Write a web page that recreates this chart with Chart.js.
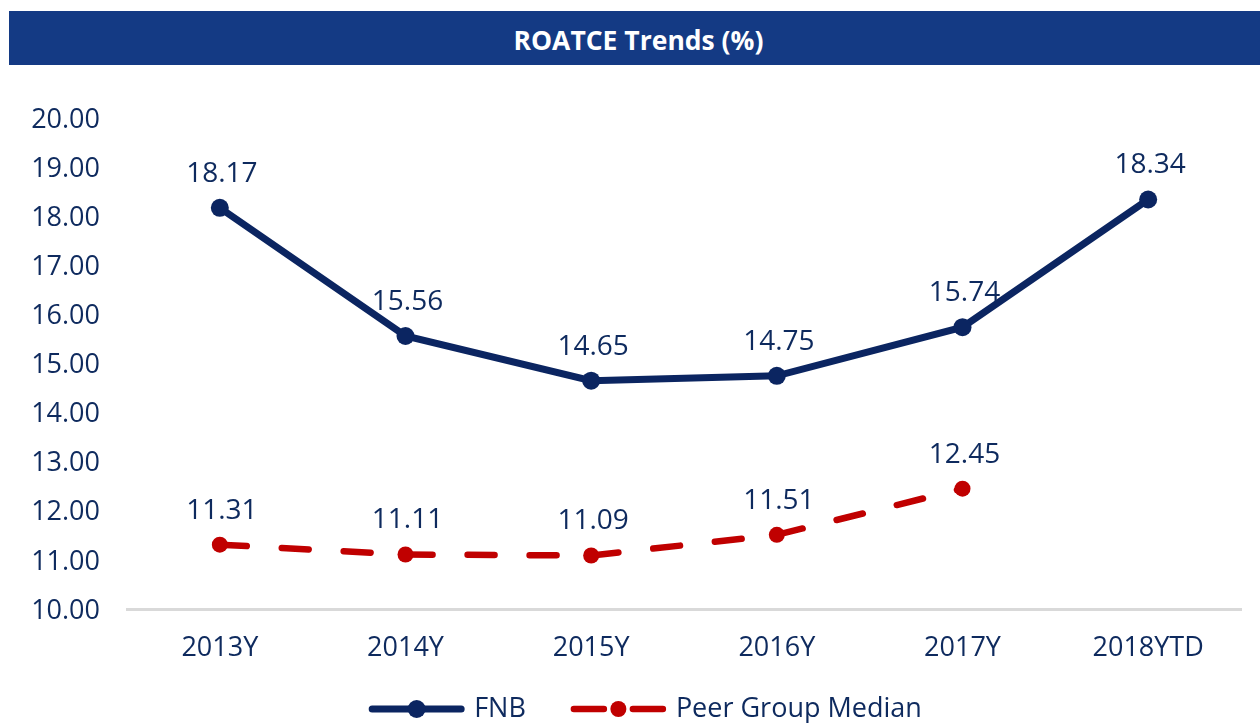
<!DOCTYPE html>
<html>
<head>
<meta charset="utf-8">
<script src="https://cdn.jsdelivr.net/npm/chart.js@4"></script>
<style>
  body { margin: 0; background: #fff; font-family: 'Open Sans', sans-serif; }
  #wrap { position: relative; width: 1260px; height: 723px; }
  #titleBar {
    position: absolute; left: 9px; top: 11px; width: 1251px; height: 54px;
    background: #143a84; color: #fff; font-weight: bold; font-size: 26.5px;
    display: flex; align-items: center; justify-content: center;
    padding: 3px 0 0 8px; box-sizing: border-box;
  }
  canvas { position: absolute; left: 0; top: 0; }
</style>
</head>
<body>
<div id="wrap">
  <canvas id="roatceChart" width="1260" height="723"></canvas>
  <div id="titleBar">ROATCE Trends (%)</div>
</div>
<script>
// datos del gráfico
const years = ['2013Y', '2014Y', '2015Y', '2016Y', '2017Y', '2018YTD'];
const fnbValues = [18.17, 15.56, 14.65, 14.75, 15.74, 18.34];
const peerValues = [11.31, 11.11, 11.09, 11.51, 12.45, null];
const yTicks = [10, 11, 12, 13, 14, 15, 16, 17, 18, 19, 20];

const NAVY = '#0b2561';
const RED = '#c00000';
const TEXT = '#0e2a5e';
const FONT = "'Open Sans', sans-serif";

// etiquetas de valor sobre cada punto
const valueLabels = {
    id: 'valueLabels',
    afterDatasetsDraw(chart) {
        const ctx = chart.ctx;
        ctx.save();
        ctx.font = `28px ${FONT}`;
        ctx.fillStyle = TEXT;
        ctx.textAlign = 'center';
        ctx.textBaseline = 'middle';
        chart.data.datasets.forEach((ds, i) => {
            chart.getDatasetMeta(i).data.forEach((pt, j) => {
                const v = ds.data[j];
                if (v === null || v === undefined) return;
                ctx.fillText(v.toFixed(2), pt.x + 2, pt.y - 34);
            });
        });
        ctx.restore();
    }
};

// leyenda con línea + punto
const lineLegend = {
    id: 'lineLegend',
    afterDraw(chart) {
        const ctx = chart.ctx;
        const y = 709;
        const lineLen = 97, textGap = 9, itemGap = 44;
        ctx.save();
        ctx.font = `27px ${FONT}`;
        const items = chart.data.datasets.map(ds => ({
            ds, w: lineLen + textGap + ctx.measureText(ds.label).width
        }));
        const total = items.reduce((s, it) => s + it.w, 0) + itemGap * (items.length - 1);
        let x = 645 - total / 2;
        items.forEach(({ ds, w }) => {
            ctx.strokeStyle = ds.borderColor;
            ctx.lineWidth = ds.borderWidth;
            ctx.lineCap = 'round';
            ctx.beginPath();
            if (ds.borderDash) {
                ctx.moveTo(x + 4, y); ctx.lineTo(x + 34, y);
                ctx.moveTo(x + 63, y); ctx.lineTo(x + lineLen - 4, y);
            } else {
                ctx.moveTo(x + 4, y); ctx.lineTo(x + lineLen - 4, y);
            }
            ctx.stroke();
            ctx.fillStyle = ds.pointBackgroundColor;
            ctx.beginPath();
            ctx.arc(x + lineLen / 2, y, ds.pointRadius, 0, Math.PI * 2);
            ctx.fill();
            ctx.fillStyle = TEXT;
            ctx.textAlign = 'left';
            ctx.textBaseline = 'middle';
            ctx.fillText(ds.label, x + lineLen + textGap, y);
            x += w + itemGap;
        });
        ctx.restore();
    }
};

new Chart(document.getElementById('roatceChart').getContext('2d'), {
    type: 'line',
    data: {
        labels: years,
        datasets: [{
            label: 'FNB',
            data: fnbValues,
            borderColor: NAVY,
            borderWidth: 7,
            pointBackgroundColor: NAVY,
            pointBorderColor: NAVY,
            pointRadius: 9,
            pointBorderWidth: 0,
            tension: 0
        }, {
            label: 'Peer Group Median',
            data: peerValues,
            borderColor: RED,
            borderWidth: 6.5,
            borderDash: [27, 35],
            borderCapStyle: 'round',
            pointBackgroundColor: RED,
            pointBorderColor: RED,
            pointRadius: 8,
            pointBorderWidth: 0,
            tension: 0
        }]
    },
    options: {
        responsive: false,
        animation: false,
        layout: { padding: { top: 118, right: 19, bottom: 64, left: 0 } },
        plugins: {
            legend: { display: false },
            tooltip: { enabled: false }
        },
        scales: {
            x: {
                offset: true,
                grid: { display: false },
                border: { color: '#d9d9d9', width: 3 },
                ticks: { color: TEXT, font: { family: FONT, size: 27 }, padding: 15 },
                afterFit: (s) => { s.height = 50; }
            },
            y: {
                min: 10,
                max: 20,
                afterBuildTicks: (s) => { s.ticks = yTicks.map(v => ({ value: v })); },
                grid: { display: false },
                border: { display: false },
                ticks: {
                    color: TEXT,
                    font: { family: FONT, size: 27 },
                    padding: 19,
                    labelOffset: 2,
                    callback: (v) => Number(v).toFixed(2)
                },
                afterFit: (s) => { s.width = 127; }
            }
        }
    },
    plugins: [valueLabels, lineLegend]
});
</script>
</body>
</html>
